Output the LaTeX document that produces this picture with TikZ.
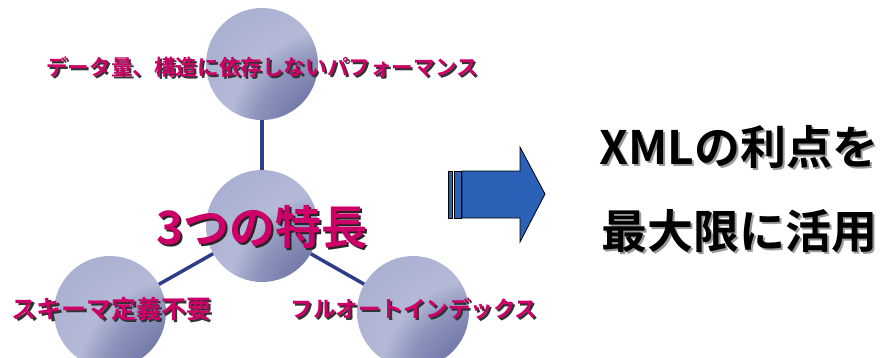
\documentclass[tikz,border=0pt]{standalone}
\usepackage{fontspec}
\newfontfamily\jpfont{Noto Sans CJK JP}[BoldFont={Noto Sans CJK JP Bold}]
\usepackage{tikz}
\definecolor{ballLight}{RGB}{170,176,209}
\definecolor{ballDark}{RGB}{50,60,124}
\definecolor{spokeBlue}{RGB}{47,60,135}
\definecolor{labelPink}{RGB}{204,0,102}
\definecolor{arrowBlue}{RGB}{43,98,184}
% dark spot sits at the lower right of each ball
\pgfdeclareradialshading{featureshade}{\pgfpoint{50bp}{-50bp}}{%
	color(0bp)=(ballDark);
	color(12bp)=(ballDark);
	color(25bp)=(ballLight!45!ballDark);
	color(38bp)=(ballLight!75!ballDark);
	color(46bp)=(ballLight!88!white);
	color(60bp)=(ballLight);
	color(120bp)=(ballLight!95!black)}
\newcommand{\dropshadow}[2]{\makebox[0pt][l]{\kern2pt\raisebox{-2pt}{\textcolor{#1}{#2}}}#2}
\tikzset{
	feature ball/.style={
		circle,
		draw=none,
		shading=featureshade,
		minimum size=112pt,
		inner sep=0pt
	},
	spoke/.style={
		draw=spokeBlue,
		line width=3.5pt
	},
	feature label/.style={
		text=labelPink,
		inner sep=0pt,
		font=\jpfont\bfseries
	},
	gain label/.style={
		text=black,
		inner sep=0pt,
		font=\jpfont\bfseries\fontsize{46}{50}\selectfont
	},
}

\begin{document}
\begin{tikzpicture}[x=1pt, y=-1pt]

\useasboundingbox (0,0) rectangle (884,357);
\clip (0,0) rectangle (884,357);

\foreach \n/\x/\y in {top/262/64, hub/262/226, left/110/312, right/413/312}
	\node [feature ball] (\n) at (\x,\y) {};

\foreach \n in {top, left, right}
	\draw [spoke] (hub) -- (\n);

% labels on the balls
\node [feature label, font=\jpfont\bfseries\fontsize{21.6}{24}\selectfont] (top-label) at (262,68)
	{\dropshadow{black!80}{データ量、構造に依存しないパフォーマンス}};
\node [feature label, font=\jpfont\bfseries\fontsize{46}{50}\selectfont] (hub-label) at (262,228)
	{\dropshadow{black!85}{3つの特長}};
\node [feature label, font=\jpfont\bfseries\fontsize{25}{28}\selectfont] (left-label) at (112,310)
	{\dropshadow{black!80}{スキーマ定義不要}};
\node [feature label, font=\jpfont\bfseries\fontsize{22.5}{26}\selectfont] (right-label) at (414,310)
	{\dropshadow{black!80}{フルオートインデックス}};

% block arrow
\draw [fill=arrowBlue, line width=0.8pt] (448,171) rectangle (452,218);
\draw [fill=arrowBlue, line width=0.8pt] (454,171) rectangle (461,218);
\draw [fill=arrowBlue, line width=0.8pt, line join=miter]
	(462,171) -- (520,171) -- (520,147) -- (545,194) -- (520,242) -- (520,218) -- (462,218) -- cycle;

\node [gain label] (gain-1) at (739,148) {\dropshadow{black!40}{XMLの利点を}};
\node [gain label] (gain-2) at (739,232) {\dropshadow{black!40}{最大限に活用}};

\end{tikzpicture}
\end{document}
